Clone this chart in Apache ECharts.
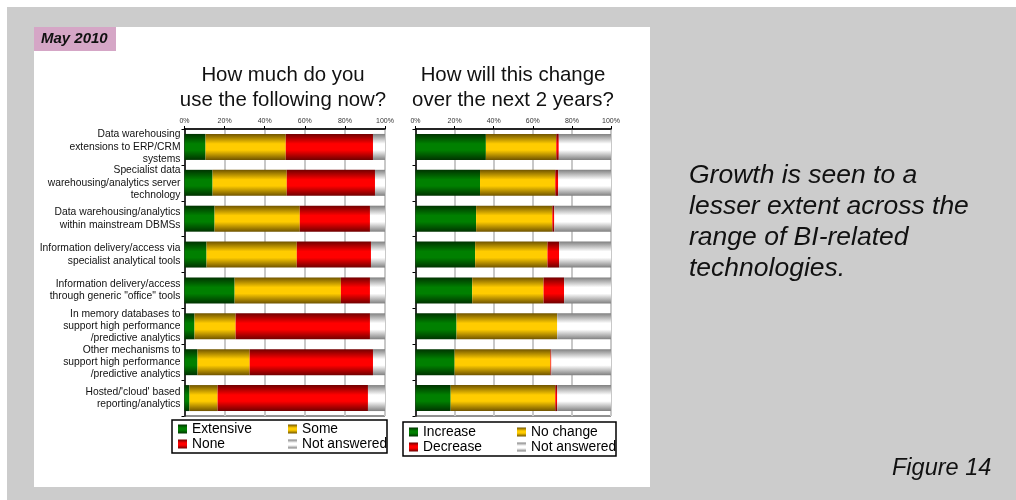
<!DOCTYPE html>
<html>
<head>
<meta charset="utf-8">
<script src="https://cdn.jsdelivr.net/npm/echarts@6/dist/echarts.min.js"></script>
<style>
  html, body { margin: 0; padding: 0; background: #ffffff; }
  #bg { position: absolute; left: 7px; top: 7px; width: 1009px; height: 493px; background: #cccccc; }
  #panel { position: absolute; left: 34px; top: 27px; width: 616px; height: 460px; background: #ffffff; }
  #tag { position: absolute; left: 34px; top: 27px; width: 82px; height: 24px; background: #d5a6c6; }
  #chart { position: absolute; left: 0; top: 0; width: 1016px; height: 500px; }
</style>
</head>
<body>
<div id="bg"></div>
<div id="panel"></div>
<div id="tag"></div>
<div id="chart"></div>
<script>
// Technologies surveyed (shared by both panels)
const categories = [
  "Data warehousing\nextensions to ERP/CRM\nsystems",
  "Specialist data\nwarehousing/analytics server\ntechnology",
  "Data warehousing/analytics\nwithin mainstream DBMSs",
  "Information delivery/access via\nspecialist analytical tools",
  "Information delivery/access\nthrough generic \"office\" tools",
  "In memory databases to\nsupport high performance\n/predictive analytics",
  "Other mechanisms to\nsupport high performance\n/predictive analytics",
  "Hosted/'cloud' based\nreporting/analytics"
];

// Current usage (%)
const extensive    = [10.5, 14, 15, 11, 25, 5, 6.5, 2.5];
const some         = [40, 37, 42.5, 45, 53, 20.5, 26, 14];
const none         = [43.5, 44, 35, 37, 14.5, 67, 61.5, 75];
const notAnsweredNow = [6, 5, 7.5, 7, 7.5, 7.5, 6, 8.5];

// Expected change over the next 2 years (%)
const increase     = [36, 33, 31, 30.5, 29, 21, 20, 18];
const noChange     = [36, 38.5, 39, 37, 36.5, 51.5, 49, 53.5];
const decrease     = [1.3, 1.5, 1, 6, 10.5, 0, 0.5, 1];
const notAnsweredChange = [26.7, 27, 29, 26.5, 24, 27.5, 30.5, 27.5];

const percentTicks = [0, 20, 40, 60, 80, 100];

const FONT = "'Liberation Sans', Arial, sans-serif";

// Shaded bar fill: dark edges, bright centre
function shade(dark, bright) {
  return new echarts.graphic.LinearGradient(0, 0, 0, 1, [
    { offset: 0, color: dark },
    { offset: 0.38, color: bright },
    { offset: 0.62, color: bright },
    { offset: 1, color: dark }
  ]);
}
const GREEN = shade('#003300', '#008000');
const YELLOW = shade('#705400', '#ffcc00');
const RED = shade('#700000', '#ff0000');
const GREY = shade('#808080', '#ffffff');

const chart = echarts.init(document.getElementById('chart'), null, { renderer: 'canvas' });

const gridTop = 129, gridHeight = 287;

function xAxisFor(gridIndex) {
  return {
    gridIndex, type: 'value', position: 'top', min: 0, max: 100, interval: 20,
    axisLine: { show: true, lineStyle: { color: '#000', width: 1.5 } },
    axisTick: { show: true, length: 3, lineStyle: { color: '#000' } },
    axisLabel: { fontSize: 7, color: '#333', fontFamily: FONT, margin: 4,
      formatter: v => percentTicks.includes(v) ? v + '%' : '' },
    splitLine: { show: true, lineStyle: { color: '#c8c8c8', width: 2 } }
  };
}
function yAxisFor(gridIndex, showLabels) {
  return {
    gridIndex, type: 'category', inverse: true, data: categories,
    axisLine: { show: true, lineStyle: { color: '#000', width: 1.5 } },
    axisTick: { show: true, length: 3, interval: 0, lineStyle: { color: '#000' } },
    axisLabel: { show: showLabels, interval: 0, hideOverlap: false, fontSize: 10.3, lineHeight: 12.3, color: '#111', fontFamily: FONT, margin: 4, align: 'right' },
    splitLine: { show: false }
  };
}
function bar(name, data, color, idx, stack) {
  return {
    name, type: 'bar', stack, data, barWidth: 26,
    xAxisIndex: idx, yAxisIndex: idx,
    itemStyle: { color },
    emphasis: { disabled: true },
    animation: false
  };
}

const legendText = { fontSize: 13.8, color: '#000', fontFamily: FONT };
function legend(left, top, names) {
  return {
    left, top, orient: 'vertical', itemWidth: 9, itemHeight: 9, itemGap: 1, padding: 0,
    icon: 'rect', data: names, textStyle: legendText, selectedMode: false
  };
}

chart.setOption({
  animation: false,
  grid: [
    { left: 184.5, top: gridTop, width: 200.5, height: gridHeight, show: true, borderColor: '#222', borderWidth: 1, backgroundColor: '#fff' },
    { left: 415.5, top: gridTop, width: 195.5, height: gridHeight, show: true, borderColor: '#222', borderWidth: 1, backgroundColor: '#fff' }
  ],
  xAxis: [xAxisFor(0), xAxisFor(1)],
  yAxis: [yAxisFor(0, true), yAxisFor(1, false)],
  legend: [
    legend(178, 422, ['Extensive', 'None']),
    legend(288, 422, ['Some', 'Not answered']),
    legend(409, 425, ['Increase', 'Decrease']),
    legend(517, 425, ['No change', { name: 'Not answered ' }])
  ],
  series: [
    bar('Extensive', extensive, GREEN, 0, 'now'),
    bar('Some', some, YELLOW, 0, 'now'),
    bar('None', none, RED, 0, 'now'),
    bar('Not answered', notAnsweredNow, GREY, 0, 'now'),
    bar('Increase', increase, GREEN, 1, 'change'),
    bar('No change', noChange, YELLOW, 1, 'change'),
    bar('Decrease', decrease, RED, 1, 'change'),
    bar('Not answered ', notAnsweredChange, GREY, 1, 'change')
  ],
  graphic: [
    { type: 'text', left: 41, top: 31, style: { text: 'May 2010', font: 'italic bold 15px ' + FONT, fill: '#111' } },
    { type: 'text', x: 283, y: 63, style: { text: 'How much do you\nuse the following now?', font: '20.4px ' + FONT, lineHeight: 25, fill: '#111', textAlign: 'center' } },
    { type: 'text', x: 513, y: 63, style: { text: 'How will this change\nover the next 2 years?', font: '20.4px ' + FONT, lineHeight: 25, fill: '#111', textAlign: 'center' } },
    { type: 'rect', shape: { x: 172, y: 420, width: 215, height: 33 }, style: { fill: 'none', stroke: '#000', lineWidth: 1.5 } },
    { type: 'rect', shape: { x: 403, y: 422, width: 213, height: 34 }, style: { fill: 'none', stroke: '#000', lineWidth: 1.5 } },
    { type: 'text', x: 689, y: 160, style: { text: 'Growth is seen to a\nlesser extent across the\nrange of BI-related\ntechnologies.', font: 'italic 26.5px ' + FONT, lineHeight: 31, fill: '#111' } },
    { type: 'text', x: 892, y: 457, style: { text: 'Figure 14', font: 'italic 23.5px ' + FONT, fill: '#111' } }
  ]
});
</script>
</body>
</html>
